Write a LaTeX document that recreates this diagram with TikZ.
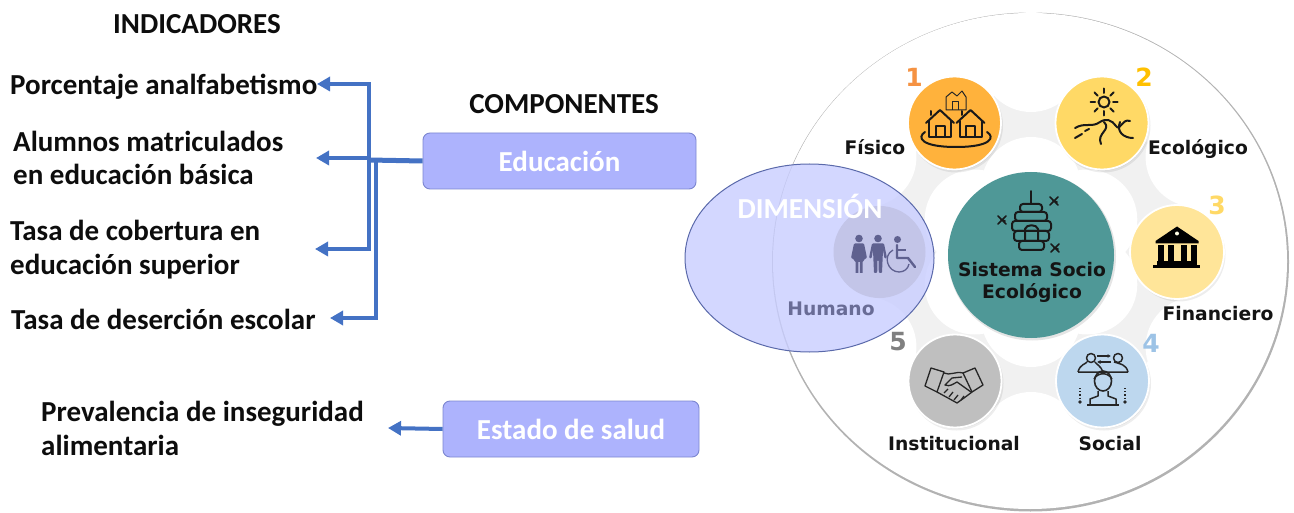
\documentclass[tikz,border=0pt]{standalone}
\usepackage{fontspec}
\setmainfont{Carlito}
\newfontfamily\lblfont{DejaVu Sans}
\usetikzlibrary{arrows.meta}
\definecolor{arrowblue}{HTML}{4472C4}
\definecolor{boxfill}{HTML}{ADB3FD}
\definecolor{boxline}{HTML}{7C86D0}
\definecolor{ringgray}{HTML}{F1F1F1}
\definecolor{hum}{HTML}{5F618F}
\definecolor{hubteal}{HTML}{4F9897}
\definecolor{dimfill}{RGB}{200,205,255}
\definecolor{dimline}{RGB}{90,105,170}
\definecolor{humcirc}{RGB}{195,197,232}
\definecolor{humtxt}{RGB}{105,108,150}
\tikzset{
  x=1pt,y=-1pt,
  indic/.style={font=\fontsize{29}{29}\selectfont\bfseries,anchor=base west,inner sep=0pt,text=black!95},
  head/.style={font=\fontsize{29}{29}\selectfont\bfseries,anchor=base,inner sep=0pt,text=black!95},
  compbox/.style={draw=boxline,line width=.9pt,fill=boxfill,rounded corners=7pt,text=white,font=\fontsize{29}{29}\selectfont\bfseries,inner sep=0pt},
  conn/.style={draw=arrowblue,line width=4pt},
  arr/.style={conn,-{Triangle[length=13pt,width=14pt]}},
  dimc/.style={circle,draw=white,line width=1.8pt,inner sep=0pt,minimum size=#1},
  lbl/.style={font=\lblfont\fontsize{18.7}{18.7}\selectfont\bfseries,inner sep=0pt,text=black!92},
  numb/.style={font=\lblfont\fontsize{25}{25}\selectfont\bfseries,inner sep=0pt},
  ico/.style={draw=black!90,line width=2pt,line join=round,line cap=round,fill=none},
  icot/.style={draw=black!85,line width=1pt,line join=round,fill=none},
}
\newcommand{\softshadow}[2]{%
  \fill[black,opacity=.07] (#1+1.5,#2+2.5) circle (47pt);
  \fill[black,opacity=.08] (#1+1,#2+1.5) circle (46pt);
}
\newcommand{\houseic}[2]{%
  \begin{scope}[shift={(#1,#2)}]
    \draw[ico] (-14,0) -- (0,-13) -- (14,0);
    \draw[ico] (-11,-2) -- (-11,14) -- (11,14) -- (11,-2);
    \draw[ico] (-4.5,14) -- (-4.5,3) -- (4.5,3) -- (4.5,14);
    \draw[ico] (-9,-8) -- (-9,-12);
  \end{scope}}
\newcommand{\beeic}[2]{%
  \draw[ico,line width=1.7pt] (#1-4,#2-4) -- (#1+4,#2+4) (#1+4,#2-4) -- (#1-4,#2+4) (#1-1,#2) -- (#1+3,#2+1);
}
\begin{document}
\begin{tikzpicture}
\useasboundingbox (0,0) rectangle (1294,513);
% ---- wheel background
\fill[black!30] (1030.5,262) ellipse (258.5pt and 249.5pt);
\fill[white] (1030,261) ellipse (257pt and 248pt);
\fill[ringgray] (1031,252) circle (160pt);
\foreach \a in {90,30,-30,-90,-150,150}{
  \fill[white] (1031,252) ++(\a:190 and -190) circle (50pt);
  \fill[white] (1031,252) ++(\a:65 and -65) circle (50pt);
}
% ---- satellite circles
\softshadow{954.5}{123}
\softshadow{1102}{123}
\softshadow{1177}{252}
\softshadow{1102.5}{381}
\softshadow{955}{381}
\fill[black,opacity=.1] (1032,256.5) circle (84pt);
\node[circle,fill=hubteal,inner sep=0pt,minimum size=166pt] (hub) at (1031,255) {};
\node[dimc=93pt,fill={rgb,255:red,255;green,178;blue,60}] (fisico) at (954.5,123) {};
\node[dimc=93pt,fill={rgb,255:red,255;green,217;blue,102}] (ecol) at (1102,123) {};
\node[dimc=94pt,fill={rgb,255:red,255;green,229;blue,153}] (finan) at (1177,252) {};
\node[dimc=93pt,fill={rgb,255:red,189;green,215;blue,238}] (soc) at (1102.5,381) {};
\node[dimc=93pt,fill={rgb,255:red,191;green,191;blue,191}] (inst) at (955,381) {};
% ---- icon: fisico
\houseic{940}{123}
\houseic{970.5}{123}
\draw[ico] (925,132) .. controls (917,137) and (920,147) .. (956,147) .. controls (992,147) and (995,137) .. (987,132);
\draw[icot] (946,110) -- (946,97) -- (952,92) -- (957,96) -- (962,91) -- (966,97) -- (966,110) -- cycle;
\draw[icot] (952,110) -- (952,102) -- (958,102) -- (958,110);
% ---- icon: ecologico
\draw[ico] (1104,102) circle (5.5pt);
\foreach \a in {0,45,...,315}{
  \draw[ico] (1104,102) ++(\a:9 and 9) -- ++(\a:4.5 and 4.5);
}
\draw[ico] (1075,128) .. controls (1085,122) and (1092,128) .. (1100,122) .. controls (1106,118) and (1112,120) .. (1116,126) .. controls (1120,132) and (1122,118) .. (1130,121);
\draw[ico] (1104,122) .. controls (1112,130) and (1096,133) .. (1101,144);
\draw[ico] (1120,122) .. controls (1116,132) and (1124,138) .. (1133,138);
\draw[ico] (1075,138) -- (1082,134) (1085,131) -- (1089,129);
% ---- icon: bank
\fill[black] (1155.5,241) -- (1177,226.5) -- (1198.5,241) -- (1198.5,243.5) -- (1155.5,243.5) -- cycle;
\fill[white!90!yellow] (1177,233.5) circle (2pt);
\foreach \cx in {1160.5,1170.5,1183.5,1193.5}{ \fill[black] (\cx-3,245) rectangle (\cx+3,261); }
\fill[black] (1157,261) rectangle (1197,265);
\fill[black] (1153,265) rectangle (1200,268.5);
% ---- icon: social
\draw[icot,line width=1.5pt] (1091,358) circle (4.5pt) (1078,372) .. controls (1080,364) and (1086,364) .. (1087,362) (1095,362) .. controls (1096,364) and (1101,366) .. (1103,372) -- (1078,372);
\draw[icot,line width=1.5pt] (1118,358) circle (4.5pt) (1128,372) .. controls (1126,364) and (1120,364) .. (1114,362) (1103,372) -- (1128,372);
\draw[icot,line width=1.2pt,-{Latex[length=3.5pt,width=4pt]}] (1097,356) -- (1111,356);
\draw[icot,line width=1.2pt,-{Latex[length=3.5pt,width=4pt]}] (1111,362) -- (1097,362);
\draw[icot,line width=1.6pt] (1103,381) ellipse (8.5pt and 10pt);
\draw[icot,line width=1.5pt] (1094,379) .. controls (1098,372) and (1108,372) .. (1112,379);
\draw[icot,line width=1.5pt] (1098,391) -- (1098,396) -- (1090,399) -- (1090,404) (1108,391) -- (1108,396) -- (1116,399) -- (1116,404);
\draw[icot,line width=2pt] (1087,405) -- (1119,405);
\draw[icot,line width=1.2pt,dotted] (1080,388) -- (1080,400);
\draw[icot,line width=1.2pt,dotted] (1125,388) -- (1125,400);
\fill[black!85] (1080,402) circle (1.9pt) (1125,402) circle (1.9pt);
% ---- icon: handshake
\draw[icot,line width=1.3pt] (931,368) -- (925,386) -- (937,392) -- (944,372) -- cycle;
\draw[icot,line width=1.3pt] (975,368) -- (983,385) -- (972,392) -- (963,373) -- cycle;
\draw[icot,line width=1.3pt] (944,373) .. controls (950,376) and (955,371) .. (963,373);
\draw[icot,line width=1.3pt] (937,392) -- (948,398) -- (957,403) -- (964,398) -- (972,392);
\draw[icot,line width=1.3pt] (962,377) -- (952,378) -- (945,385) .. controls (950,387) and (953,384) .. (957,382) -- (971,392);
\draw[icot,line width=1.3pt] (944,393) -- (948,389) (949,397) -- (953,392) (954,400) -- (958,395) (961,400) -- (964,396);
% ---- icon: hive
\draw[ico,line width=1.6pt] (1031,191) -- (1031,204);
\draw[ico,rounded corners=3pt] (1020,204) rectangle (1042,212);
\draw[ico,rounded corners=3pt] (1015,212) rectangle (1047,221);
\draw[ico,rounded corners=3pt] (1012,221) rectangle (1051,231);
\draw[ico,rounded corners=3pt] (1014,231) rectangle (1049,241);
\draw[ico,rounded corners=3pt] (1019,241) rectangle (1044,250);
\draw[ico] (1025,241) -- (1025,229) .. controls (1026,224) and (1037,224) .. (1038,229) -- (1038,241);
\beeic{1054}{201}
\beeic{1002}{220}
\beeic{1055}{248}
% ---- hub text
\node[lbl] (hubtxt) at (1032,270) {Sistema Socio};
\node[lbl] (hubtxtb) at (1032,293) {Ecológico};
% ---- dimension labels
\node[lbl] (lfis) at (875,147) {Físico};
\node[lbl] (leco) at (1198,149) {Ecológico};
\node[lbl] (lfin) at (1218,314) {Financiero};
\node[lbl] (lsoc) at (1110,444) {Social};
\node[lbl] (lins) at (954,444) {Institucional};
\node[numb,text={rgb,255:red,245;green,146;blue,66}] (n1) at (914,77) {1};
\node[numb,text={rgb,255:red,255;green,192;blue,0}] (n2) at (1144,77) {2};
\node[numb,text={rgb,255:red,255;green,217;blue,102}] (n3) at (1217,205) {3};
\node[numb,text={rgb,255:red,157;green,195;blue,230}] (n4) at (1151,343) {4};
\node[numb,text=black!50] (n5) at (898,342) {5};
% ---- dimension ellipse
\fill[dimfill,opacity=.8] (809.5,258) ellipse (124.5pt and 94pt);
\draw[dimline,line width=1pt] (809.5,258) ellipse (124.5pt and 94pt);
\node[circle,fill=humcirc,inner sep=0pt,minimum size=92pt] (humc) at (879.5,252) {};
% woman
\fill[hum] (859,238.5) circle (3.8pt);
\fill[hum,rounded corners=1pt] (854,243.5) -- (864,243.5) -- (867,258) -- (864.5,259) -- (863,262) -- (855,262) -- (853.5,259) -- (851,258) -- cycle;
\fill[hum] (855.5,261) rectangle (858.4,273) (859.8,261) rectangle (862.7,273);
% man
\fill[hum] (878,238.5) circle (3.8pt);
\fill[hum,rounded corners=1pt] (872,243.5) -- (884,243.5) -- (887,258) -- (884.5,258.5) -- (883,250) -- (882,273) -- (878.8,273) -- (878.5,260) -- (877.5,260) -- (877.2,273) -- (874,273) -- (873,250) -- (871.5,258.5) -- (869,258) -- cycle;
% wheelchair
\fill[hum] (897.5,239.5) circle (3.5pt);
\draw[hum,line width=2.4pt,line cap=round,line join=round] (897,245) -- (897,258) -- (908,258) -- (915,267);
\draw[hum,line width=2pt] (897,250) -- (906,250);
\draw[hum,line width=1.3pt] (893,250) .. controls (882,256) and (888,272) .. (899,272) .. controls (904,272) and (908,269) .. (909,264);
% texts over ellipse
\node[font=\lblfont\fontsize{18.7}{18.7}\selectfont\bfseries,text=humtxt,inner sep=0pt] (lhum) at (831,309) {Humano};
\node[font=\fontsize{29}{29}\selectfont\bfseries,text=white,inner sep=0pt] (ldim) at (810,206) {DIMENSIÓN};
% ---- headings and indicators
\node[head] (hind) at (197,34) {INDICADORES};
\node[head] (hcom) at (564,114) {COMPONENTES};
\node[indic] (i1) at (10,95) {Porcentaje analfabetismo};
\node[indic] (i2a) at (13,152) {Alumnos matriculados};
\node[indic] (i2b) at (13,185) {en educación básica};
\node[indic] (i3a) at (10,241) {Tasa de cobertura en};
\node[indic] (i3b) at (10,275) {educación superior};
\node[indic] (i4) at (11,329) {Tasa de deserción escolar};
\node[indic] (i5a) at (41,421) {Prevalencia de inseguridad};
\node[indic] (i5b) at (41,455) {alimentaria};
% ---- component boxes
\node[compbox,minimum width=273pt,minimum height=56pt] (edu) at (559.5,161) {Educación};
\node[compbox,minimum width=256pt,minimum height=56pt] (sal) at (571,429) {Estado de salud};
% ---- connectors
\coordinate (j1) at (369,160);
\coordinate (j2) at (376,160);
\coordinate (t1) at (369,84);
\coordinate (t2) at (369,158);
\coordinate (t3) at (369,249);
\coordinate (t4) at (376,318);
\coordinate (e1) at (317,84);
\coordinate (e2) at (316,158);
\coordinate (e3) at (315,249);
\coordinate (e4) at (330,318);
\coordinate (e5) at (388,428);
\draw[conn,line width=5pt] (edu.west) -- (j1);
\draw[conn,line cap=rect] (t1) -- (t3);
\draw[conn,line cap=rect] (j2) -- (t4);
\draw[arr] (t1) -- (e1);
\draw[arr] (t2) -- (e2);
\draw[arr] (t3) -- (e3);
\draw[arr] (t4) -- (e4);
\draw[arr] (sal.west) -- (e5);
\end{tikzpicture}
\end{document}
